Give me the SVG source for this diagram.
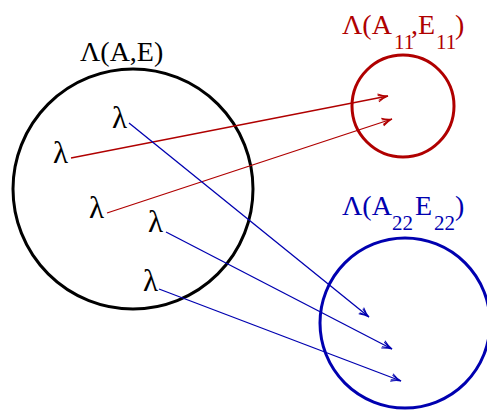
<svg xmlns="http://www.w3.org/2000/svg" width="487" height="410" viewBox="0 0 487 410">
<style>
  text { font-family: "Liberation Serif", "DejaVu Serif", serif; }
  .lam { font-size: 31px; text-anchor: middle; fill: #000; }
  .lbl { font-size: 28px; }
  .sub { font-size: 21px; }
  .red { fill: #b00000; }
  .blue { fill: #0000b0; }
  .circ { fill: none; stroke-width: 3; }
  .rl { stroke: #b00000; stroke-width: 1.3; fill: none; marker-end: url(#ar); }
  .bl { stroke: #0000b0; stroke-width: 1.3; fill: none; marker-end: url(#ab); }
</style>
<defs>
  <marker id="ar" viewBox="-12 -6 14 12" markerWidth="14" markerHeight="12" refX="0" refY="0" orient="auto" markerUnits="userSpaceOnUse">
    <path d="M -10,-4 Q -5,-1 0,0 Q -5,1 -10,4 M -10,-2.5 L -3,0 L -10,2.5" fill="none" stroke="#b00000" stroke-width="1"/>
  </marker>
  <marker id="ab" viewBox="-12 -6 14 12" markerWidth="14" markerHeight="12" refX="0" refY="0" orient="auto" markerUnits="userSpaceOnUse">
    <path d="M -10,-4 Q -5,-1 0,0 Q -5,1 -10,4 M -10,-2.5 L -3,0 L -10,2.5" fill="none" stroke="#0000b0" stroke-width="1"/>
  </marker>
</defs>
<g id="set-AE">
  <circle class="circ" cx="133" cy="189" r="120" stroke="#000"/>
  <text class="lbl" x="80" y="61" fill="#000">Λ(A,E)</text>
</g>
<g id="set-A11E11">
  <circle class="circ" cx="403" cy="106" r="51" stroke="#b00000"/>
  <text class="lbl red" y="34"><tspan x="342">Λ(A</tspan><tspan class="sub" x="394" y="49">11</tspan><tspan x="411" y="34">,E</tspan><tspan class="sub" x="436" y="49">11</tspan><tspan x="455" y="34">)</tspan></text>
</g>
<g id="set-A22E22">
  <circle class="circ" cx="405" cy="323" r="85" stroke="#0000b0"/>
  <text class="lbl blue" y="215"><tspan x="342">Λ(A</tspan><tspan class="sub" x="392" y="230">22</tspan><tspan x="415" y="215">E</tspan><tspan class="sub" x="434" y="230">22</tspan><tspan x="455" y="215">)</tspan></text>
</g>
<g id="eigenvalues">
  <text class="lam" x="119.5" y="128">λ</text>
  <text class="lam" x="60.5" y="163">λ</text>
  <text class="lam" x="96.5" y="218">λ</text>
  <text class="lam" x="155.5" y="232">λ</text>
  <text class="lam" x="150.5" y="291">λ</text>
</g>
<g id="connectors">
  <line class="rl" x1="71" y1="158" x2="388" y2="96"/>
  <line class="rl" x1="107" y1="213" x2="392" y2="119"/>
  <line class="bl" x1="129" y1="123" x2="369" y2="317"/>
  <line class="bl" x1="166" y1="232" x2="392" y2="349"/>
  <line class="bl" x1="159" y1="289" x2="401" y2="381"/>
</g>
</svg>
